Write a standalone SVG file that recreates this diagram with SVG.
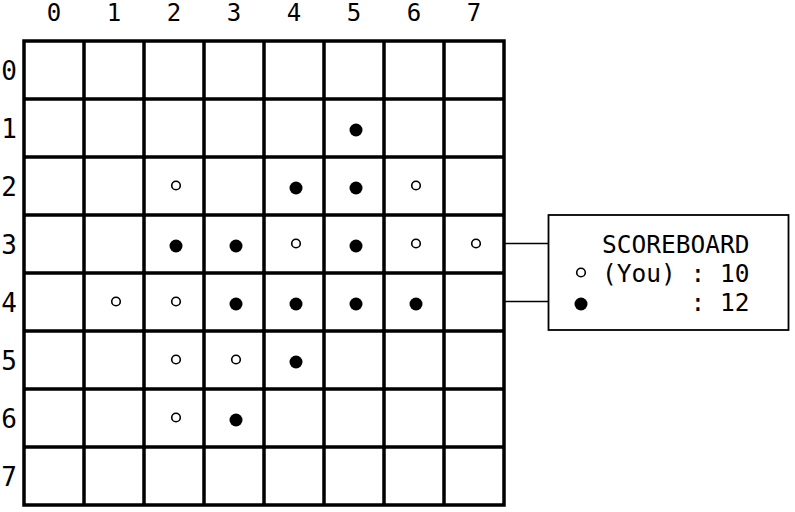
<svg xmlns="http://www.w3.org/2000/svg" width="795" height="512" viewBox="0 0 795 512">
<style>
.grid{fill:none;stroke:#000;stroke-width:3.5}
.lbl{font-family:"DejaVu Sans Mono","Liberation Mono",monospace;fill:#000;text-anchor:middle}
.col{font-size:24px}
.row{font-size:26px}
.open{fill:#fff;stroke:#000;stroke-width:1.6}
.fill{fill:#000}
.box{fill:#fff;stroke:#000;stroke-width:1.8}
.conn{stroke:#000;stroke-width:1.6;fill:none}
.sb{font-family:"DejaVu Sans Mono","Liberation Mono",monospace;font-size:24.5px;fill:#000}
</style>
<rect width="795" height="512" fill="#fff"/>
<g id="column-labels" class="lbl col">
<text x="54" y="21">0</text><text x="114" y="21">1</text><text x="174" y="21">2</text><text x="234" y="21">3</text>
<text x="294" y="21">4</text><text x="354" y="21">5</text><text x="414" y="21">6</text><text x="474" y="21">7</text>
</g>
<g id="row-labels" class="lbl row">
<text x="9" y="80">0</text><text x="9" y="138">1</text><text x="9" y="196">2</text><text x="9" y="254">3</text>
<text x="9" y="312">4</text><text x="9" y="370">5</text><text x="9" y="428">6</text><text x="9" y="486">7</text>
</g>
<g id="board" class="grid">
<rect x="24" y="41" width="480" height="464"/>
<path d="M84 41V505M144 41V505M204 41V505M264 41V505M324 41V505M384 41V505M444 41V505"/>
<path d="M24 99H504M24 157H504M24 215H504M24 273H504M24 331H504M24 389H504M24 447H504"/>
</g>
<g id="pieces">
<circle class="fill" cx="356" cy="130" r="6.5"/>
<circle class="open" cx="176" cy="185.5" r="4.3"/>
<circle class="fill" cx="296" cy="188" r="6.5"/>
<circle class="fill" cx="356" cy="188" r="6.5"/>
<circle class="open" cx="416" cy="185.5" r="4.3"/>
<circle class="fill" cx="176" cy="246" r="6.5"/>
<circle class="fill" cx="236" cy="246" r="6.5"/>
<circle class="open" cx="296" cy="243.5" r="4.3"/>
<circle class="fill" cx="356" cy="246" r="6.5"/>
<circle class="open" cx="416" cy="243.5" r="4.3"/>
<circle class="open" cx="476" cy="243.5" r="4.3"/>
<circle class="open" cx="116" cy="301.5" r="4.3"/>
<circle class="open" cx="176" cy="301.5" r="4.3"/>
<circle class="fill" cx="236" cy="304" r="6.5"/>
<circle class="fill" cx="296" cy="304" r="6.5"/>
<circle class="fill" cx="356" cy="304" r="6.5"/>
<circle class="fill" cx="416" cy="304" r="6.5"/>
<circle class="open" cx="176" cy="359.5" r="4.3"/>
<circle class="open" cx="236" cy="359.5" r="4.3"/>
<circle class="fill" cx="296" cy="362" r="6.5"/>
<circle class="open" cx="176" cy="417.5" r="4.3"/>
<circle class="fill" cx="236" cy="420" r="6.5"/>
</g>
<g id="connectors">
<path class="conn" d="M505 243.5H548.5M505 301.5H548.5"/>
</g>
<g id="scoreboard">
<rect class="box" x="548.5" y="215" width="240" height="115"/>
<text class="sb" x="602" y="253">SCOREBOARD</text>
<circle class="open" cx="581" cy="272.5" r="4.3"/>
<text class="sb" x="602" y="282">(You) : 10</text>
<circle class="fill" cx="581" cy="304" r="6.5"/>
<text class="sb" x="690.5" y="310.5">: 12</text>
</g>
</svg>
